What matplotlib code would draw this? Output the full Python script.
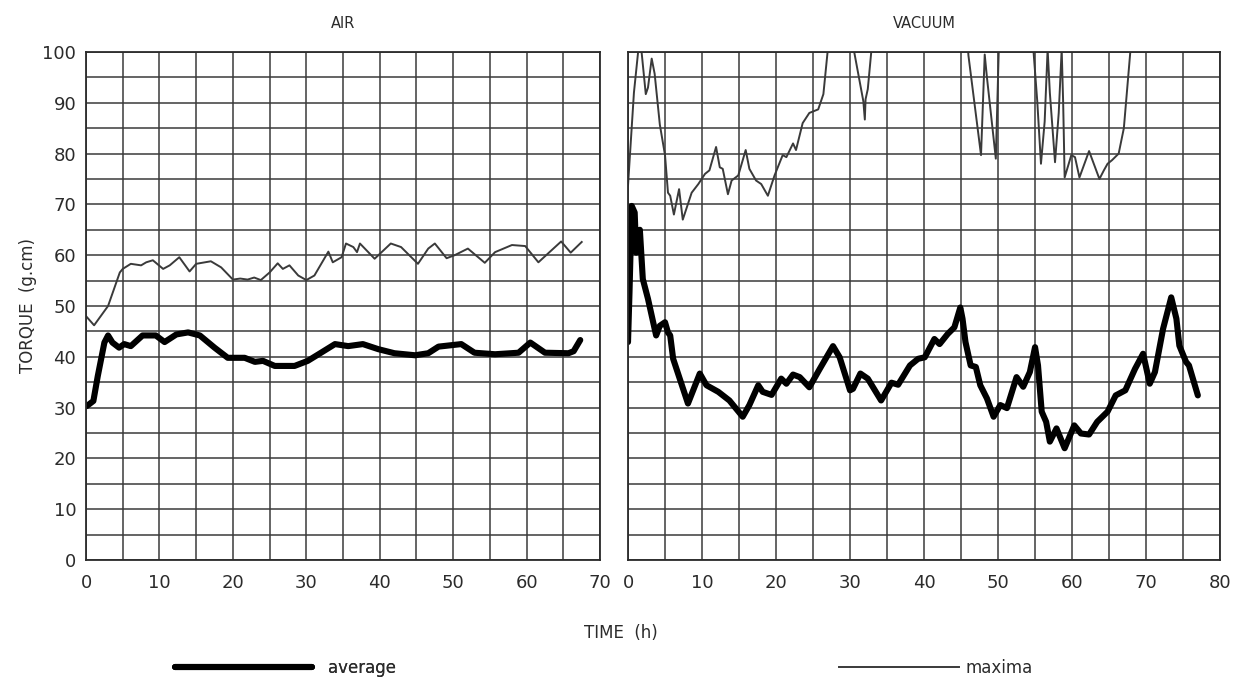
import matplotlib
matplotlib.use('Agg')
import matplotlib.pyplot as plt
from matplotlib.ticker import MultipleLocator

# ---------------- data ----------------
air_max_t = [0, 1.1, 3, 4.6, 5, 6.1, 7.5, 8.2, 9.1, 10.5, 11.4, 12.7, 14.1, 15, 17,
             18.4, 20, 21, 22, 22.9, 23.8, 25, 26.1, 26.8, 27.7, 28.9, 30, 31.1, 33,
             33.6, 34.8, 35.4, 36.4, 36.9, 37.3, 39.3, 41.5, 42.9, 45.2, 46.6, 47.5,
             49.1, 50.2, 52, 54.3, 55.7, 58, 59.8, 61.6, 64.7, 66, 67.5]
air_max_v = [48, 46.2, 50, 56.6, 57.3, 58.3, 58, 58.6, 59, 57.3, 58, 59.6, 56.8, 58.3, 58.8,
             57.6, 55.2, 55.4, 55.2, 55.6, 55.1, 56.6, 58.4, 57.3, 58, 56, 55.1, 56, 60.7,
             58.6, 59.6, 62.3, 61.6, 60.6, 62.3, 59.3, 62.3, 61.6, 58.3, 61.3, 62.3,
             59.4, 60, 61.3, 58.5, 60.6, 62, 61.8, 58.6, 62.7, 60.5, 62.6]

air_avg_t = [0.1, 1, 1.6, 2.5, 3, 3.6, 4.5, 5.2, 6.1, 7.7, 9.5, 10.7, 12.3, 13.9, 15.5,
             17.5, 19.3, 21.6, 23, 24.1, 25.7, 28.4, 30.2, 32, 33.9, 35.7, 37.7, 39.8,
             42, 44.8, 46.6, 48, 51.1, 52.9, 55.7, 58.9, 60.5, 62.5, 65.7, 66.4, 67.3]
air_avg_v = [30.3, 31.3, 36.2, 42.8, 44.2, 42.8, 41.8, 42.5, 42.1, 44.2, 44.2, 42.9, 44.4,
             44.8, 44.2, 41.8, 39.8, 39.8, 39, 39.2, 38.2, 38.2, 39.2, 40.8, 42.5, 42.1,
             42.5, 41.5, 40.7, 40.3, 40.7, 42, 42.5, 40.8, 40.5, 40.8, 42.8, 40.8, 40.7,
             41.1, 43.3]

# maxima in vacuum go off scale (values > 100 are clipped by the frame)
vac_max_t = [0, 0.2, 0.8, 1.4, 1.8, 2.4, 2.7, 3.2, 3.6, 4.3, 5.0, 5.4, 5.7, 6.2, 6.9, 7.4,
             8.6, 9.5, 10.4, 11.0, 11.9, 12.4, 12.8, 13.5, 14.0, 14.9, 15.9, 16.4, 17.3,
             18.0, 18.9, 19.8, 20.9, 21.4, 22.3, 22.7, 23.6, 24.5, 25.7, 26.4, 27.0, 27.5,
             30.0, 30.5, 31.8, 32.0, 32.1, 32.4, 32.9, 33.3, 45.5, 46.0, 47.7, 48.2, 48.5,
             49.7, 50.1, 50.5, 54.4, 54.8, 55.3, 55.8, 56.3, 56.7, 57.0, 57.7, 58.2, 58.6,
             58.8, 59.0, 59.9, 60.4, 61.0, 62.3, 63.7, 64.3, 64.8, 65.4, 66.3, 67.0, 67.9,
             68.3]
vac_max_v = [73.7, 78.3, 92, 100.5, 100.5, 91.7, 93, 98.7, 95.7, 85.7, 79.7, 72.3, 71.7, 68,
             73, 67, 72.3, 74, 76, 76.7, 81.3, 77.3, 77, 72, 74.7, 75.7, 80.7, 77, 74.7,
             74, 71.7, 75.7, 79.7, 79.3, 82, 80.7, 86, 88, 88.7, 91.7, 100.5, 110,
             110, 100.5, 90.3, 86.7, 90.7, 92.7, 100.5, 110, 110, 99.3, 79.7, 99.5, 95,
             79, 100.5, 110, 110, 100, 90.3, 78, 86.3, 100.5, 92, 78.3, 88, 100.5,
             90, 75.3, 79.7, 79.3, 75.3, 80.5, 75, 76.7, 78, 78.7, 80, 85, 100.5,
             110]

vac_avg_t = [0.0, 0.2, 0.5, 0.9, 1.1, 1.6, 2.0, 2.7, 3.4, 3.8, 4.3, 5.0, 5.4, 5.7, 6.1, 8.1,
             9.7, 10.6, 12.2, 13.7, 15.5, 16.4, 17.6, 18.2, 19.4, 20.7, 21.4, 22.3, 23.2,
             24.5, 25.9, 27.7, 28.6, 30.0, 30.4, 31.4, 32.4, 34.2, 35.6, 36.5, 38.1, 39.2,
             40.1, 41.4, 42.1, 43.2, 44.1, 44.9, 45.2, 45.6, 46.3, 47.0, 47.6, 48.5, 49.4,
             50.3, 51.2, 52.5, 53.4, 54.3, 55.0, 55.4, 55.9, 56.5, 57.0, 57.9, 59.0, 60.3,
             61.2, 62.3, 63.4, 64.8, 65.9, 67.2, 68.5, 69.6, 70.5, 71.2, 72.3, 73.4, 74.1,
             74.5, 75.4, 75.8, 77.0]
vac_avg_v = [42.9, 52.7, 69.7, 68.4, 60.5, 65, 55.3, 51.4, 46.8, 44.2, 46.1, 46.8, 44.8, 44.2,
             39.6, 30.8, 36.7, 34.4, 33.1, 31.4, 28.2, 30.5, 34.4, 33.1, 32.5, 35.7, 34.7,
             36.5, 36, 34, 37.6, 42.1, 39.9, 33.4, 33.7, 36.7, 35.7, 31.4, 34.9, 34.5, 38.3,
             39.6, 39.9, 43.5, 42.5, 44.5, 45.8, 49.7, 47.5, 42.9, 38.3, 38, 34.4, 31.8,
             28.2, 30.5, 29.9, 36, 34.1, 37, 41.9, 38.3, 29.2, 27.2, 23.3, 25.9, 22, 26.5,
             24.9, 24.7, 27.2, 29.2, 32.4, 33.4, 37.6, 40.6, 34.7, 37, 45.5, 51.7, 47.5,
             42.2, 39, 38.3, 32.4]

panel_titles = ["AIR", "VACUUM"]
panel_xmax = [70, 80]
y_label = "TORQUE  (g.cm)"
x_label = "TIME  (h)"
series_labels = ["average", "maxima"]

# ---------------- figure ----------------
ink = '#2b2b2b'
fig = plt.figure(figsize=(12.36, 6.84), dpi=100)
fig.patch.set_facecolor('white')
ax1 = fig.add_axes([0.0696, 0.1813, 0.4159, 0.7427])
ax2 = fig.add_axes([0.5081, 0.1813, 0.4790, 0.7427])

for ax, title, xmax in zip([ax1, ax2], panel_titles, panel_xmax):
    ax.set_xlim(0, xmax)
    ax.set_ylim(0, 100)
    ax.xaxis.set_major_locator(MultipleLocator(10))
    ax.xaxis.set_minor_locator(MultipleLocator(5))
    ax.yaxis.set_major_locator(MultipleLocator(10))
    ax.yaxis.set_minor_locator(MultipleLocator(5))
    ax.grid(which='both', color='#3a3a3a', lw=1.1)
    ax.set_axisbelow(True)
    ax.tick_params(which='both', length=0)
    ax.tick_params(axis='x', pad=10, labelsize=13, labelcolor=ink)
    ax.tick_params(axis='y', pad=7, labelsize=13, labelcolor=ink)
    for s in ax.spines.values():
        s.set_color(ink)
        s.set_linewidth(1.3)
    ax.set_title(title, fontsize=10.5, pad=17, color=ink)

ax2.tick_params(axis='y', labelleft=False)

ln_avg, = ax1.plot(air_avg_t, air_avg_v, color='black', lw=4.4, solid_joinstyle='round',
                   solid_capstyle='round')
ln_max, = ax1.plot(air_max_t, air_max_v, color='#3a3a3a', lw=1.4)
ax2.plot(vac_avg_t, vac_avg_v, color='black', lw=4.4, solid_joinstyle='round',
         solid_capstyle='round')
ax2.plot(vac_max_t, vac_max_v, color='#3a3a3a', lw=1.4)

fig.text(0.0227, 0.554, y_label, rotation=90, ha='center', va='center',
         fontsize=12, color=ink)
fig.text(0.502, 0.0746, x_label, ha='center', va='center', fontsize=12, color=ink)

leg1 = fig.legend(handles=[ln_avg], labels=[series_labels[0]], loc='center',
                  bbox_to_anchor=(0.231, 0.024), frameon=False, fontsize=12,
                  handlelength=8.2, handletextpad=1.0, labelcolor=ink)
leg2 = fig.legend(handles=[ln_max], labels=[series_labels[1]], loc='center',
                  bbox_to_anchor=(0.757, 0.024), frameon=False, fontsize=12,
                  handlelength=7.2, handletextpad=0.4, labelcolor=ink)
fig.add_artist(leg1)

fig.savefig('out.png', dpi=100, facecolor='white')
